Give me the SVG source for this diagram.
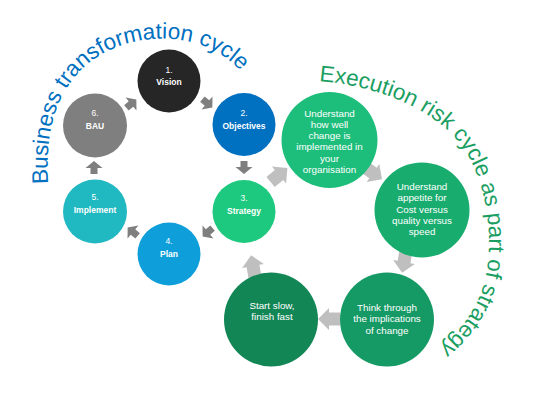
<svg xmlns="http://www.w3.org/2000/svg" xmlns:xlink="http://www.w3.org/1999/xlink" width="536" height="403" viewBox="0 0 536 403">
<style>
.num{font-family:"Liberation Sans",Arial,sans-serif;font-size:8.5px;fill:#ffffff;text-anchor:middle}
.lbl{font-family:"Liberation Sans",Arial,sans-serif;font-size:8.5px;font-weight:bold;fill:#ffffff;text-anchor:middle}
.ex{font-family:"Liberation Sans",Arial,sans-serif;font-size:9.8px;fill:#ffffff;text-anchor:middle}
.dark{fill:#7f7f7f}
.light{fill:#bfbfbf}
.arc{font-family:"Liberation Sans",Arial,sans-serif;font-size:22.5px}
</style>
<defs>
<path id="sa" d="M-6,-3.5 H0 V-8.5 L7,0 L0,8.5 V3.5 H-6 Z"/>
<path id="la" d="M-11,-6.5 H0 V-11 L11,0 L0,11 V6.5 H-11 Z"/>
<path id="bpath" d="M48,184 C45,130 56,96 81,70 C111,40 160,32 198,44 C218,50 234,62 247,78"/>
<path id="epath" d="M319,81 C381,86 441,112 466,152 C491,192 497,262 477,302 C467,322 455,336 437,350"/>
</defs>
<g id="titles">
<text class="arc" fill="#0070c0"><textPath xlink:href="#bpath">Business transformation cycle</textPath></text>
<text class="arc" fill="#1a9e62"><textPath xlink:href="#epath">Execution risk cycle as part of strategy</textPath></text>
</g>
<g id="connectors">
<use href="#sa" class="dark" transform="translate(207,103) rotate(40)"/>
<use href="#sa" class="dark" transform="translate(244,167) rotate(90)"/>
<use href="#sa" class="dark" transform="translate(208,232) rotate(140)"/>
<use href="#sa" class="dark" transform="translate(133,232) rotate(-140)"/>
<use href="#sa" class="dark" transform="translate(94,168) rotate(-90)"/>
<use href="#sa" class="dark" transform="translate(131,104) rotate(-40)"/>
<use href="#la" class="light" transform="translate(279,175) rotate(-40)"/>
<use href="#la" class="light" transform="translate(373,173) rotate(35)"/>
<use href="#la" class="light" transform="translate(404,262) rotate(100)"/>
<use href="#la" class="light" transform="translate(329,319) rotate(180)"/>
<use href="#la" class="light" transform="translate(253,266) rotate(-100)"/>
</g>
<g id="vision"><circle cx="169" cy="81" r="31.5" fill="#262626"/><text class="num" x="169" y="72.5">1.</text><text class="lbl" x="169" y="85">Vision</text></g>
<g id="objectives"><circle cx="244" cy="124.5" r="31.5" fill="#0070c0"/><text class="num" x="244" y="116">2.</text><text class="lbl" x="244" y="128.5">Objectives</text></g>
<g id="strategy"><circle cx="244" cy="211.5" r="31.5" fill="#1dc97e"/><text class="num" x="244" y="201">3.</text><text class="lbl" x="244" y="213.5">Strategy</text></g>
<g id="plan"><circle cx="169" cy="254" r="31.5" fill="#0e9fdb"/><text class="num" x="169" y="244">4.</text><text class="lbl" x="169" y="256.5">Plan</text></g>
<g id="implement"><circle cx="95" cy="211.5" r="32" fill="#21b9c1"/><text class="num" x="95" y="200">5.</text><text class="lbl" x="95" y="212.5">Implement</text></g>
<g id="bau"><circle cx="95" cy="125.5" r="32" fill="#7f7f7f"/><text class="num" x="95" y="116">6.</text><text class="lbl" x="95" y="128.5">BAU</text></g>
<g id="understand"><circle cx="329.5" cy="140" r="48" fill="#1dbe7b"/>
<text class="ex" x="329.5" y="116.5">Understand</text><text class="ex" x="329.5" y="127.8">how well</text><text class="ex" x="329.5" y="139.1">change is</text><text class="ex" x="329.5" y="150.4">implemented in</text><text class="ex" x="329.5" y="161.7">your</text><text class="ex" x="329.5" y="173">organisation</text></g>
<g id="appetite"><circle cx="422" cy="210" r="47.5" fill="#18ad6e"/>
<text class="ex" x="422" y="190">Understand</text><text class="ex" x="422" y="201.3">appetite for</text><text class="ex" x="422" y="212.6">Cost versus</text><text class="ex" x="422" y="223.9">quality versus</text><text class="ex" x="422" y="235.2">speed</text></g>
<g id="think"><circle cx="387" cy="319.5" r="47" fill="#159a65"/>
<text class="ex" x="387" y="311">Think through</text><text class="ex" x="387" y="322.3">the implications</text><text class="ex" x="387" y="333.6">of change</text></g>
<g id="start"><circle cx="271" cy="319.5" r="47" fill="#138656"/>
<text class="ex" x="272" y="309">Start slow,</text><text class="ex" x="272" y="320.3">finish fast</text></g>
</svg>
